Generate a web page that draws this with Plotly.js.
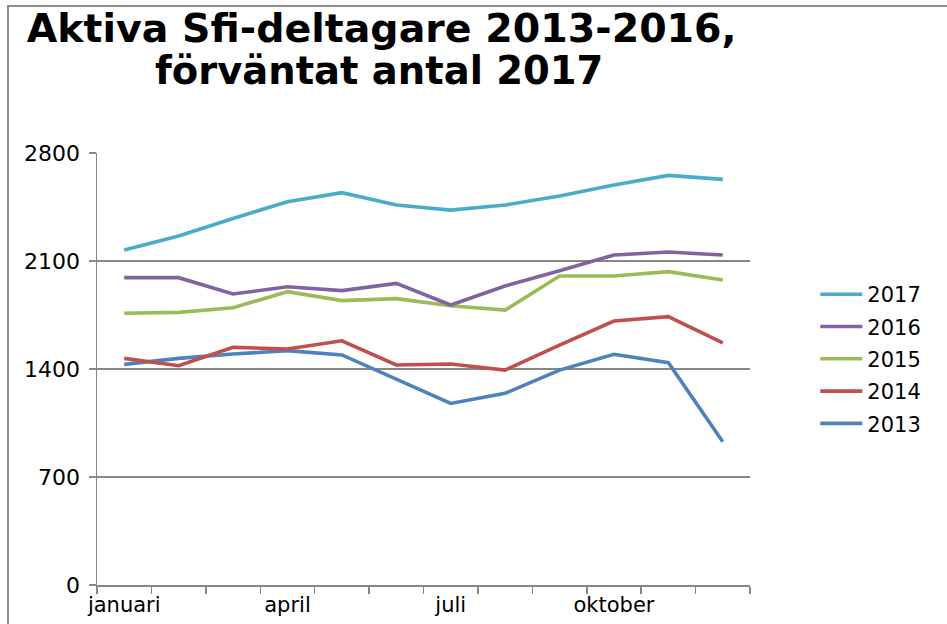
<!DOCTYPE html>
<html>
<head>
<meta charset="utf-8">
<script src="https://cdn.plot.ly/plotly-3.0.1.min.js"></script>
<style>
html,body{margin:0;padding:0;background:#fff;}
#chart{width:947px;height:624px;}
</style>
</head>
<body>
<div id="chart"></div>
<script>
const months = ["januari","februari","mars","april","maj","juni","juli","augusti","september","oktober","november","december"];
const monthLabels = ["januari","","","april","","","juli","","","oktober","",""];
const seriesNames = ["2013","2014","2015","2016","2017"];
const colors = ["#4F81BD","#C0504D","#9BBB59","#8064A2","#4BACC6"];
const v2013 = [1430,1469,1497,1519,1491,1335,1177,1242,1393,1495,1441,929];
const v2014 = [1469,1421,1540,1530,1583,1426,1432,1393,1555,1711,1739,1570];
const v2015 = [1761,1767,1797,1901,1843,1856,1810,1782,2003,2003,2031,1977];
const v2016 = [1992,1992,1886,1933,1908,1955,1815,1938,2037,2139,2158,2139];
const v2017 = [2171,2262,2376,2484,2543,2463,2430,2463,2521,2592,2655,2629];
const yTicks = [0,700,1400,2100,2800];
const titleLine1 = "Aktiva Sfi-deltagare 2013-2016,";
const titleLine2 = "förväntat antal 2017";

const allValues = [v2013,v2014,v2015,v2016,v2017];
const traces = allValues.map((vals,i)=>({
  type:"scatter", mode:"lines", x:months, y:vals, name:seriesNames[i],
  line:{color:colors[i], width:3.6}, legendgroup:seriesNames[i], legendrank:10-i
}));

const gray = "#878787";
const layout = {
  width:947, height:624,
  margin:{l:97, r:197, t:153, b:39},
  paper_bgcolor:"#fff", plot_bgcolor:"#fff",
  font:{family:"DejaVu Sans, Verdana, sans-serif", size:21, color:"#000"},
  title:{text:titleLine1, xref:"container", yref:"container", x:0.403, xanchor:"center", y:0.955, yanchor:"middle",
         font:{family:"DejaVu Sans, Verdana, sans-serif", size:39.5, weight:"bold", color:"#000"}},
  annotations:[{text:titleLine2, xref:"paper", yref:"paper", x:(379-97)/653, y:(585-71)/432, xanchor:"center", yanchor:"middle",
         showarrow:false, font:{family:"DejaVu Sans, Verdana, sans-serif", size:38.5, weight:"bold", color:"#000"}}],
  xaxis:{type:"category", tickson:"boundaries", tickmode:"array", tickvals:months, ticktext:monthLabels, tickangle:0,
         ticks:"outside", ticklen:7, tickcolor:gray, tickwidth:1.5, showline:true, linecolor:gray, linewidth:1.5,
         showgrid:false, zeroline:false, fixedrange:true, range:[-0.5,11.5], automargin:false},
  yaxis:{range:[0,2800], tickmode:"array", tickvals:yTicks, tickformat:"d", ticks:"outside", ticklen:7,
         tickcolor:gray, tickwidth:1.5, showline:true, linecolor:gray, linewidth:1.5,
         showgrid:true, gridcolor:gray, gridwidth:1.5, zeroline:false, ticklabelstandoff:4,
         tickfont:{size:22}},
  showlegend:true,
  legend:{x:1.1, xanchor:"left", y:0.523, yanchor:"middle", traceorder:"grouped", tracegroupgap:2,
          itemwidth:42, font:{size:21, color:"#000"}, bgcolor:"rgba(0,0,0,0)"},
  shapes:[{type:"rect", xref:"paper", yref:"paper", x0:(8-97)/653, x1:(960-97)/653, y0:-0.3, y1:(585-6)/432,
           line:{color:"#8c8c8c", width:2}, fillcolor:"rgba(0,0,0,0)", layer:"below"}]
};
Plotly.newPlot("chart", traces, layout, {displayModeBar:false, staticPlot:true});
</script>
</body>
</html>
